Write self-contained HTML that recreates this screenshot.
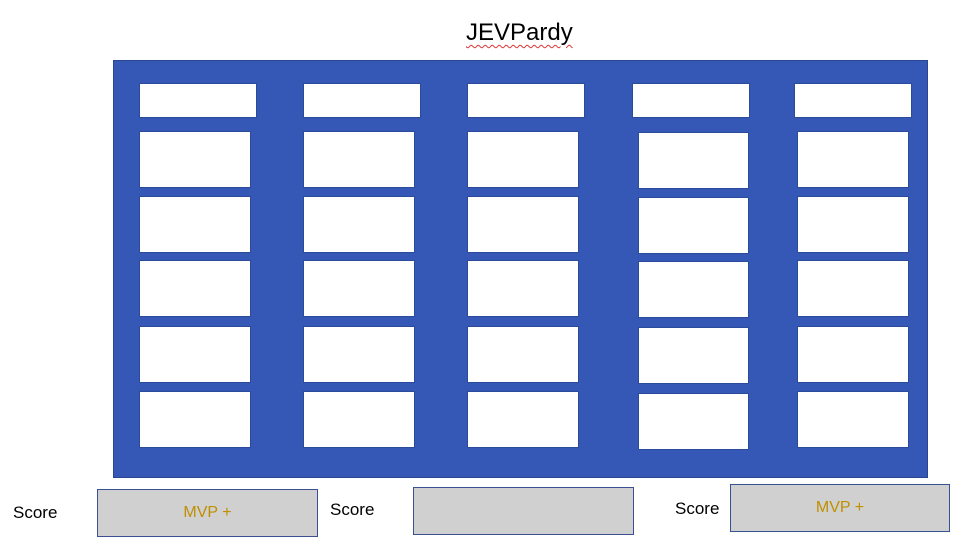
<!DOCTYPE html>
<html><head><meta charset="utf-8"><style>
body{margin:0;width:958px;height:542px;background:#fff;position:relative;overflow:hidden;font-family:"Liberation Sans",sans-serif}
.a{position:absolute;box-sizing:border-box}
.c{background:#fff;border:1px solid #2c4a9a}
.s{font-size:17px;color:#000}
.b{background:#d0d0d0;border:1.5px solid #3b5090;color:#bf8f00;font-size:16px;display:flex;align-items:center;justify-content:center}
</style></head><body>
<div class="a" style="left:466px;top:19px;font-size:24px;text-decoration:underline wavy #d33;text-decoration-thickness:1px;text-underline-offset:4px">JEVPardy</div>
<div class="a" style="left:113px;top:60px;width:815px;height:418px;background:#3557b5;border:1px solid #2a468f"></div>
<div id="cells"></div>
<div class="a s" style="left:13px;top:503px">Score</div>
<div class="a b" style="left:97px;top:489px;width:221px;height:48px">MVP +</div>
<div class="a s" style="left:330px;top:500px">Score</div>
<div class="a b" style="left:413px;top:487px;width:221px;height:48px"></div>
<div class="a s" style="left:675px;top:499px">Score</div>
<div class="a b" style="left:730px;top:484px;width:220px;height:48px">MVP +</div>
<script>
const headerX=[139,303,467,632,794];
const cellX=[139,303,467,638,797];
const rowY=[131,196,260,326,391];
const colShift=[0,0,0,1,0];
const root=document.getElementById('cells');
headerX.forEach((x,i)=>{
  const d=document.createElement('div');d.className='a c';
  
  
  d.style.cssText=`left:${x}px;top:83px;width:118px;height:35px`;
  root.appendChild(d);
});
cellX.forEach((x,i)=>rowY.forEach((y,j)=>{
  const d=document.createElement('div');d.className='a c';
  
  
  d.style.cssText=`left:${x}px;top:${y+colShift[i]*(j<4?1:2)}px;width:${i==3?111:112}px;height:57px`;
  root.appendChild(d);
}));
</script>
</body></html>
